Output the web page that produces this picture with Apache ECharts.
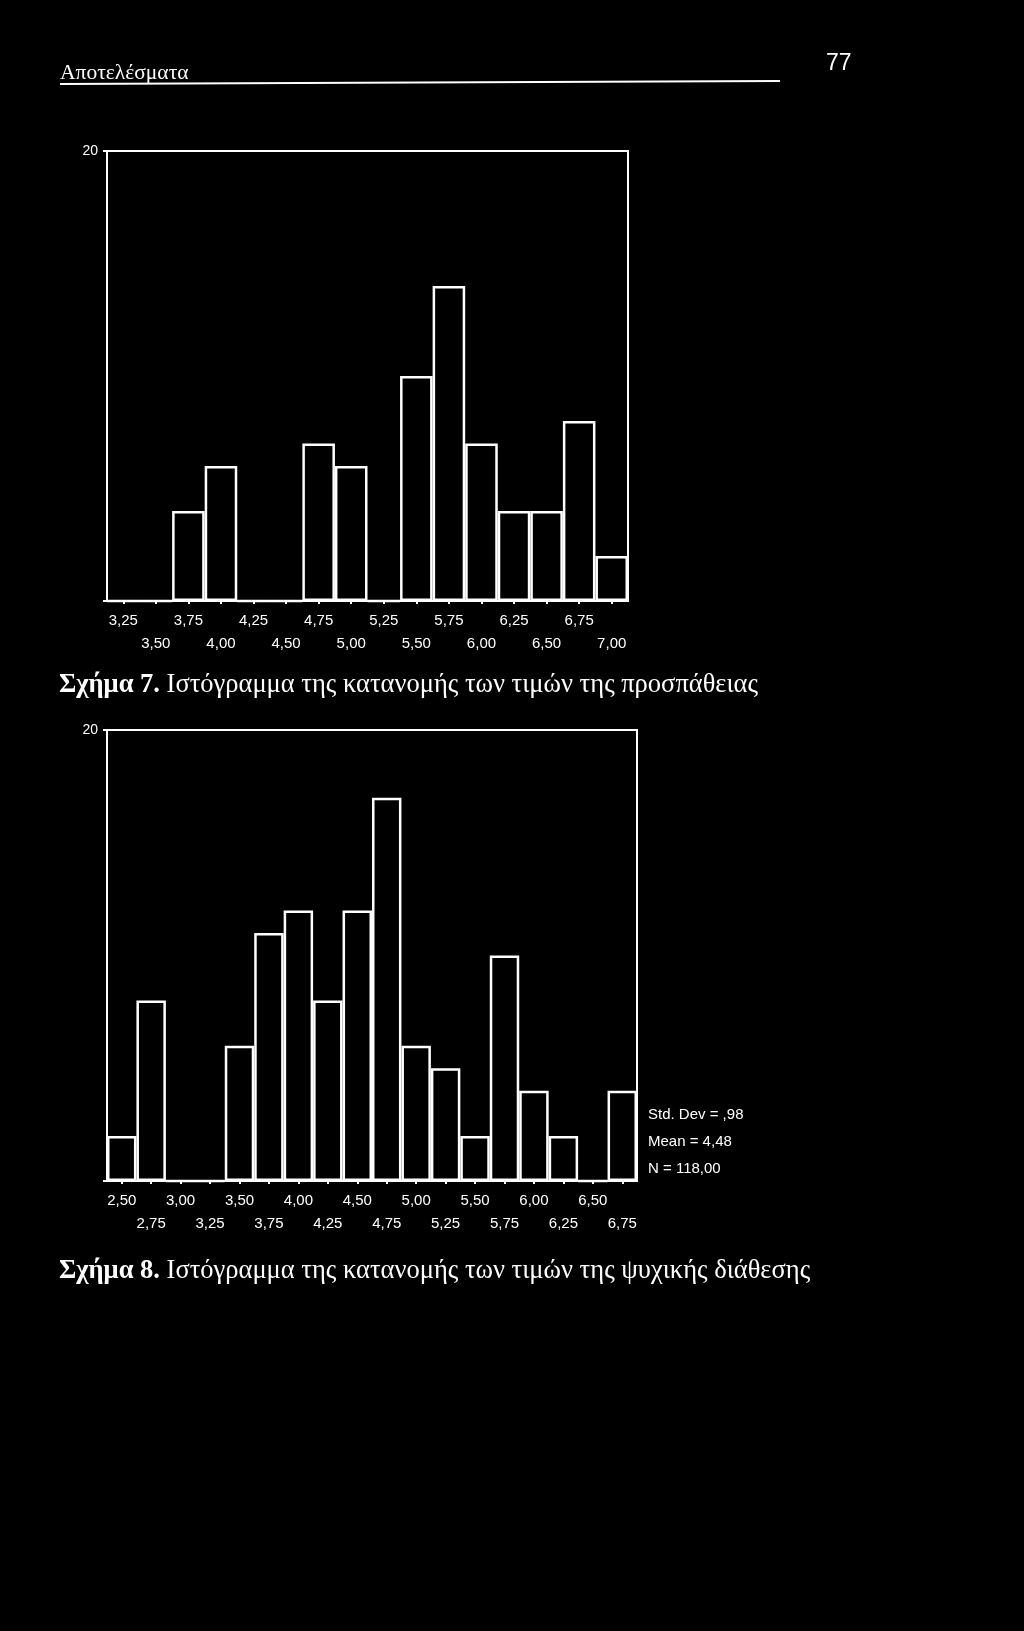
<!DOCTYPE html>
<html>
<head>
<meta charset="utf-8">
<script src="https://cdn.jsdelivr.net/npm/echarts@6/dist/echarts.min.js"></script>
<style>
html,body{margin:0;padding:0;background:#000;}
#chart{width:1024px;height:1631px;}
</style>
</head>
<body>
<div id="chart"></div>
<script>
// ---- data ----
const headerText = 'Αποτελέσματα';
const pageNumber = '77';

// Figure 7: effort (προσπάθεια)
const categories1 = ['3,25','3,50','3,75','4,00','4,25','4,50','4,75','5,00','5,25','5,50','5,75','6,00','6,25','6,50','6,75','7,00'];
const counts1     = [0, 0, 4, 6, 0, 0, 7, 6, 0, 10, 14, 7, 4, 4, 8, 2];
const caption1Bold = 'Σχήμα 7.';
const caption1Text = 'Ιστόγραμμα της κατανομής των τιμών της προσπάθειας';

// Figure 8: mood (ψυχική διάθεση)
const categories2 = ['2,50','2,75','3,00','3,25','3,50','3,75','4,00','4,25','4,50','4,75','5,00','5,25','5,50','5,75','6,00','6,25','6,50','6,75'];
const counts2     = [2, 8, 0, 0, 6, 11, 12, 8, 12, 17, 6, 5, 2, 10, 4, 2, 0, 4];
const caption2Bold = 'Σχήμα 8.';
const caption2Text = 'Ιστόγραμμα της κατανομής των τιμών της ψυχικής διάθεσης';
const stats2 = ['Std. Dev = ,98', 'Mean = 4,48', 'N = 118,00'];

const yMin = 0;
const yMax = 20;
const yTickLabels = ['20'];

// ---- chart ----
const W = '#ffffff';
const sans = 'Liberation Sans, Arial, sans-serif';
const serif = 'Liberation Serif, Times New Roman, serif';

function xAxisFor(cats, gi) {
  return {
    type: 'category', gridIndex: gi, data: cats,
    axisLine: {show: true, lineStyle: {color: W, width: 2}},
    axisTick: {show: true, alignWithLabel: true, length: 3, lineStyle: {color: W, width: 2}},
    axisLabel: {
      interval: 0, color: W, fontFamily: sans, fontSize: 15, lineHeight: 23, margin: 8,
      formatter: (v, i) => (i % 2 ? '\n' + v : v)
    },
    splitLine: {show: false}
  };
}
function yAxisFor(gi) {
  return {
    type: 'value', gridIndex: gi, min: yMin, max: yMax, interval: 20,
    axisLine: {show: true, lineStyle: {color: W, width: 2}},
    axisTick: {show: true, length: 4, lineStyle: {color: W, width: 2}},
    axisLabel: {
      color: W, fontFamily: sans, fontSize: 14, margin: 9,
      formatter: v => (yTickLabels.indexOf(String(v)) >= 0 ? String(v) : '')
    },
    splitLine: {show: false}
  };
}
function barSeries(vals, gi) {
  return {
    type: 'bar', xAxisIndex: gi, yAxisIndex: gi, data: vals,
    barCategoryGap: '0%', barGap: '0%', silent: true,
    itemStyle: {color: '#000', borderColor: W, borderWidth: 2.5}
  };
}

const chart = echarts.init(document.getElementById('chart'), null, {renderer: 'canvas'});
chart.setOption({
  backgroundColor: '#000',
  animation: false,
  grid: [
    {left: 107, top: 151, width: 521, height: 450, show: true, borderColor: W, borderWidth: 2, backgroundColor: 'transparent'},
    {left: 107, top: 730, width: 530, height: 451, show: true, borderColor: W, borderWidth: 2, backgroundColor: 'transparent'}
  ],
  xAxis: [xAxisFor(categories1, 0), xAxisFor(categories2, 1)],
  yAxis: [yAxisFor(0), yAxisFor(1)],
  series: [barSeries(counts1, 0), barSeries(counts2, 1)],
  graphic: [
    {type: 'text', left: 60, top: 62, style: {text: headerText, fill: W, font: '21.5px ' + serif}},
    {type: 'line', shape: {x1: 60, y1: 84, x2: 780, y2: 81}, style: {stroke: W, lineWidth: 2}},
    {type: 'text', left: 826, top: 52, style: {text: pageNumber, fill: W, font: '23px ' + sans}},
    {type: 'text', left: 59, top: 672, style: {
      text: '{b|' + caption1Bold + '} ' + caption1Text, fill: W, font: '26.5px ' + serif,
      rich: {b: {fontWeight: 'bold', fontSize: 26.5, fontFamily: serif, fill: W}}
    }},
    {type: 'text', left: 59, top: 1258, style: {
      text: '{b|' + caption2Bold + '} ' + caption2Text, fill: W, font: '26.5px ' + serif,
      rich: {b: {fontWeight: 'bold', fontSize: 26.5, fontFamily: serif, fill: W}}
    }},
    {type: 'text', left: 648, top: 1107, style: {text: stats2[0], fill: W, font: '15px ' + sans}},
    {type: 'text', left: 648, top: 1134, style: {text: stats2[1], fill: W, font: '15px ' + sans}},
    {type: 'text', left: 648, top: 1161, style: {text: stats2[2], fill: W, font: '15px ' + sans}}
  ]
});
</script>
</body>
</html>
